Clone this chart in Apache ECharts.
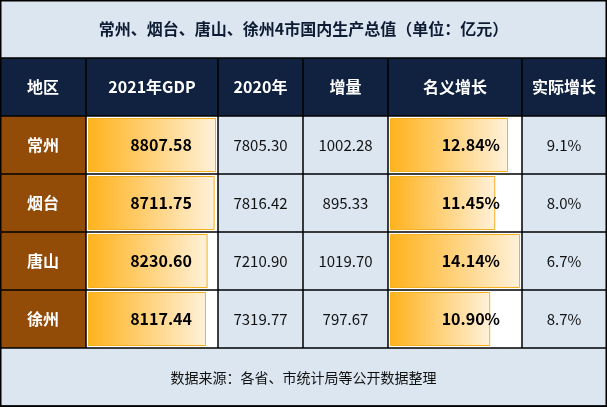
<!DOCTYPE html><html><head><meta charset="utf-8"><script src="https://cdn.jsdelivr.net/npm/echarts@6/dist/echarts.min.js"></script>
<style>html,body{margin:0;padding:0}#c{width:607px;height:407px}</style></head><body><div id="c"></div><script>
const regions=['常州','烟台','唐山','徐州'];
const gdp2021=[8807.58,8711.75,8230.60,8117.44];
const gdp2020=[7805.30,7816.42,7210.90,7319.77];
const increase=[1002.28,895.33,1019.70,797.67];
const nominal=[12.84,11.45,14.14,10.90];
const real=['9.1%','8.0%','6.7%','8.7%'];
const headers=['地区','2021年GDP','2020年','增量','名义增长','实际增长'];
const title='常州、烟台、唐山、徐州4市国内生产总值（单位：亿元）';
const source='数据来源：各省、市统计局等公开数据整理';

const cols=[0,86,218,303,388,522,606];
const top0=58,rowH=58,F='"Noto Sans CJK SC","Noto Sans",sans-serif';
const els=[];
els.push({type:'rect',z:-10,shape:{x:0,y:0,width:607,height:407},style:{fill:'#dce6f1'}});
els.push({type:'rect',z:-9,shape:{x:0,y:top0,width:607,height:rowH},style:{fill:'#10223f'}});
for(let r=0;r<4;r++){
  const y=top0+rowH*(r+1);
  els.push({type:'rect',z:-9,shape:{x:0,y:y,width:86,height:rowH},style:{fill:'#934c08'}});
  els.push({type:'rect',z:-9,shape:{x:86,y:y,width:132,height:rowH},style:{fill:'#fff'}});
  els.push({type:'rect',z:-9,shape:{x:388,y:y,width:134,height:rowH},style:{fill:'#fff'}});
}
const lw=1.5;
for(let i=0;i<=6;i++){const y=top0+rowH*i;els.push({type:'line',z:50,shape:{x1:0,y1:y,x2:607,y2:y},style:{stroke:'#000',lineWidth:lw}});}
for(let i=1;i<6;i++){els.push({type:'line',z:50,shape:{x1:cols[i],y1:top0,x2:cols[i],y2:top0+rowH*5},style:{stroke:'#000',lineWidth:lw}});}
els.push({type:'rect',z:50,shape:{x:0.75,y:0.75,width:605.5,height:405.5},style:{fill:null,stroke:'#000',lineWidth:lw}});
function txt(x,y,t,o){els.push(Object.assign({type:'text',z:60,x:x,y:y,style:Object.assign({text:t,fill:'#111',font:'15px '+F,align:'center',verticalAlign:'middle'},o||{})}));}
txt(303.5,29,title,{font:'bold 16px '+F,fill:'#0d1b33'});
txt(303.5,378,source,{font:'14px '+F,fill:'#111'});
headers.forEach((h,i)=>txt((cols[i]+cols[i+1])/2,top0+rowH/2,h,{font:'bold 16px '+F,fill:'#fff'}));
for(let r=0;r<4;r++){
  const cy=top0+rowH*(r+1)+rowH/2;
  txt(43,cy,regions[r],{font:'bold 16px '+F,fill:'#fff'});
  txt(192,cy,gdp2021[r].toFixed(2),{font:'bold 16px '+F,fill:'#000',align:'right'});
  txt(260.5,cy,gdp2020[r].toFixed(2),{font:'15px '+F});
  txt(345.5,cy,increase[r].toFixed(2),{font:'15px '+F});
  txt(500,cy,nominal[r].toFixed(2)+'%',{font:'bold 16px '+F,fill:'#000',align:'right'});
  txt(564,cy,real[r],{font:'15px '+F});
}
const grad={type:'linear',x:0,y:0,x2:1,y2:0,colorStops:[{offset:0,color:'#ffb21c'},{offset:1,color:'#fff1da'}]};
const ax=(i,max)=>({gridIndex:i,type:'value',min:0,max:max,show:false});
const ay=i=>({gridIndex:i,type:'category',data:regions,inverse:true,show:false});
const chart=echarts.init(document.getElementById('c'));
chart.setOption({animation:false,
 grid:[{left:88,width:128,top:116,height:232},{left:390,width:130,top:116,height:232}],
 xAxis:[ax(0,Math.max(...gdp2021)),ax(1,Math.max(...nominal))],
 yAxis:[ay(0),ay(1)],
 series:[
  {type:'bar',xAxisIndex:0,yAxisIndex:0,data:gdp2021,barWidth:54,itemStyle:{color:grad,borderColor:'#f5b120',borderWidth:1},silent:true},
  {type:'bar',xAxisIndex:1,yAxisIndex:1,data:nominal,barWidth:54,itemStyle:{color:grad,borderColor:'#f5b120',borderWidth:1},silent:true}
 ],
 graphic:{elements:els}});
</script></body></html>
